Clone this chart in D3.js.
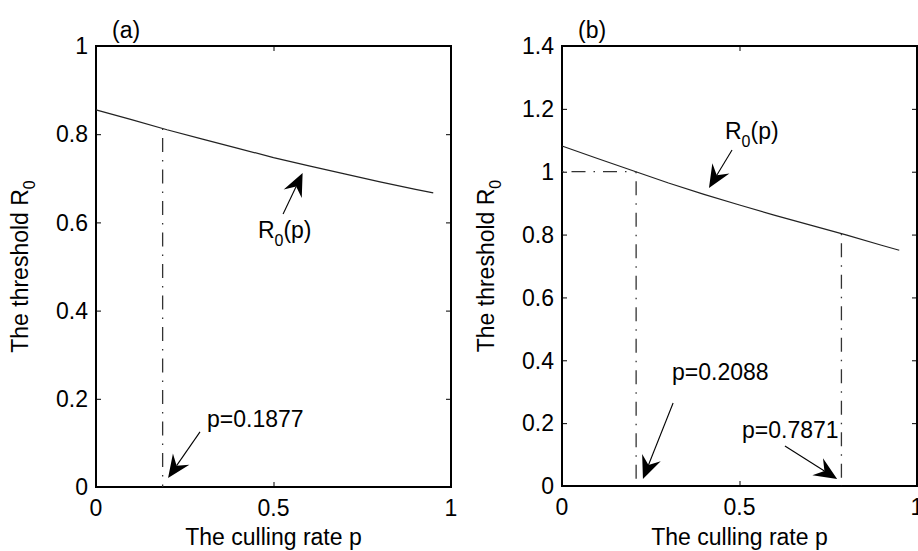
<!doctype html>
<html>
<head>
<meta charset="utf-8">
<script src="https://cdnjs.cloudflare.com/ajax/libs/d3/7.8.5/d3.min.js"></script>
<style>
  body { margin: 0; background: #fff; }
  svg { display: block; }
  text { font-family: "Liberation Sans", Arial, sans-serif; font-size: 23px; fill: #000; }
</style>
</head>
<body>
<svg width="918" height="551"></svg>
<script>
// culling rate p and threshold R0(p)
var pA = [0, 0.1, 0.2, 0.3, 0.4, 0.5, 0.6, 0.7, 0.8, 0.9, 0.95];
var r0A = [0.855, 0.833, 0.810, 0.789, 0.768, 0.747, 0.728, 0.710, 0.692, 0.675, 0.667];
var pB = [0, 0.1, 0.2, 0.3, 0.4, 0.5, 0.6, 0.7, 0.8, 0.9, 0.95];
var r0B = [1.082, 1.042, 1.003, 0.964, 0.928, 0.894, 0.861, 0.830, 0.799, 0.766, 0.750];

var xTicks = [0, 0.5, 1];
var yTicksA = [0, 0.2, 0.4, 0.6, 0.8, 1];
var yTicksB = [0, 0.2, 0.4, 0.6, 0.8, 1, 1.2, 1.4];

var critA = 0.1877;
var critB = [0.2088, 0.7871];

var svg = d3.select("svg");
var tickLen = 5;

function drawPanel(opt) {
    var x = d3.scaleLinear().domain([0, 1]).range([opt.left, opt.left + 355]);
    var y = d3.scaleLinear().domain([0, opt.ymax]).range([opt.bottom, 46]);
    var g = svg.append("g");

    // ticks (inside, all four sides)
    var ax = [
        d3.axisBottom(x).tickValues(xTicks).tickSize(-tickLen).tickFormat(""),
        d3.axisTop(x).tickValues(xTicks).tickSize(-tickLen).tickFormat(""),
        d3.axisLeft(y).tickValues(opt.yTicks).tickSize(-tickLen).tickFormat(""),
        d3.axisRight(y).tickValues(opt.yTicks).tickSize(-tickLen).tickFormat("")
    ];
    var tr = ["translate(0," + y(0) + ")", "translate(0," + y(opt.ymax) + ")",
              "translate(" + x(0) + ",0)", "translate(" + x(1) + ",0)"];
    ax.forEach(function(a, i) {
        var s = g.append("g").attr("transform", tr[i]).call(a);
        s.select(".domain").remove();
        s.selectAll("line").attr("stroke", "#000").attr("stroke-width", 1);
    });

    // tick labels
    g.selectAll(".xl").data(xTicks).enter().append("text")
        .attr("x", function(d) { return x(d); })
        .attr("y", y(0) + 29)
        .attr("text-anchor", "middle")
        .text(function(d) { return d3.format("")(d); });
    g.selectAll(".yl").data(opt.yTicks).enter().append("text")
        .attr("x", x(0) - 8)
        .attr("y", function(d) { return y(d); })
        .attr("dy", "0.36em")
        .attr("text-anchor", "end")
        .text(function(d) { return +d.toFixed(1); });

    // box
    g.append("rect")
        .attr("x", x(0)).attr("y", y(opt.ymax))
        .attr("width", x(1) - x(0)).attr("height", y(0) - y(opt.ymax))
        .attr("fill", "none").attr("stroke", "#000").attr("stroke-width", 2);

    // curve
    var pts = opt.p.map(function(d, i) { return [d, opt.r[i]]; });
    g.append("path")
        .attr("d", d3.line().x(function(d) { return x(d[0]); }).y(function(d) { return y(d[1]); })(pts))
        .attr("fill", "none").attr("stroke", "#222").attr("stroke-width", 1.2);

    var interp = function(v) {
        for (var i = 1; i < opt.p.length; i++) {
            if (v <= opt.p[i]) {
                var t = (v - opt.p[i - 1]) / (opt.p[i] - opt.p[i - 1]);
                return opt.r[i - 1] + t * (opt.r[i] - opt.r[i - 1]);
            }
        }
        return opt.r[opt.r.length - 1];
    };

    // dash-dot guide lines
    opt.crit.forEach(function(c) {
        g.append("line")
            .attr("x1", x(c)).attr("x2", x(c))
            .attr("y1", y(interp(c))).attr("y2", y(0))
            .attr("stroke", "#333").attr("stroke-width", 1.3)
            .attr("stroke-dasharray", "1.5,8,14,8");
    });
    if (opt.hline != null) {
        g.append("line")
            .attr("x1", x(0)).attr("x2", x(opt.crit[0]))
            .attr("y1", y(opt.hline)).attr("y2", y(opt.hline))
            .attr("stroke", "#333").attr("stroke-width", 1.3)
            .attr("stroke-dasharray", "1.5,8,14,8");
    }

    // panel label
    g.append("text").attr("x", x(0) + 16).attr("y", 38).text(opt.label);

    // axis titles
    g.append("text")
        .attr("x", x(0.5)).attr("y", 545)
        .attr("text-anchor", "middle")
        .text("The culling rate p");
    var yt = g.append("text")
        .attr("transform", "translate(" + (x(0) - 68) + "," + ((y(0) + y(opt.ymax)) / 2) + ") rotate(-90)")
        .attr("text-anchor", "middle");
    yt.append("tspan").text("The threshold R");
    yt.append("tspan").attr("dy", 7).style("font-size", "16px").text("0");

    // annotations
    opt.notes.forEach(function(n) {
        var t = g.append("text").attr("x", x(n.tx)).attr("y", y(n.ty));
        if (n.sub) {
            t.append("tspan").text("R");
            t.append("tspan").attr("dy", 8).style("font-size", "16px").text("0");
            t.append("tspan").attr("dy", -8).text("(p)");
        } else {
            t.text(n.text);
        }
        arrow(g, x(n.ax0), y(n.ay0), x(n.ax1), y(n.ay1));
    });
}

function arrow(g, x0, y0, x1, y1) {
    var dx = x1 - x0, dy = y1 - y0, len = Math.sqrt(dx * dx + dy * dy);
    var ux = dx / len, uy = dy / len, nx = -uy, ny = ux;
    var L = 23, W = 10, N = 15;
    g.append("line")
        .attr("x1", x0).attr("y1", y0)
        .attr("x2", x1 - ux * N).attr("y2", y1 - uy * N)
        .attr("stroke", "#000").attr("stroke-width", 1.1);
    var head = [
        [x1, y1],
        [x1 - ux * L + nx * W, y1 - uy * L + ny * W],
        [x1 - ux * N, y1 - uy * N],
        [x1 - ux * L - nx * W, y1 - uy * L - ny * W]
    ];
    g.append("path").attr("d", "M" + head.join("L") + "Z").attr("fill", "#000");
}

drawPanel({
    left: 96, bottom: 487, ymax: 1, yTicks: yTicksA, p: pA, r: r0A,
    crit: [critA], hline: null, label: "(a)",
    notes: [
        { sub: true, tx: 0.456, ty: 0.565, ax0: 0.527, ay0: 0.619, ax1: 0.582, ay1: 0.712 },
        { text: "p=0.1877", tx: 0.3127, ty: 0.136, ax0: 0.293, ay0: 0.125, ax1: 0.203, ay1: 0.0204 }
    ]
});

drawPanel({
    left: 562, bottom: 486, ymax: 1.4, yTicks: yTicksB, p: pB, r: r0B,
    crit: critB, hline: 1, label: "(b)",
    notes: [
        { sub: true, tx: 0.459, ty: 1.104, ax0: 0.479, ay0: 1.069, ax1: 0.414, ay1: 0.948 },
        { text: "p=0.2088", tx: 0.31, ty: 0.337, ax0: 0.313, ay0: 0.264, ax1: 0.228, ay1: 0.0223 },
        { text: "p=0.7871", tx: 0.507, ty: 0.153, ax0: 0.628, ay0: 0.127, ax1: 0.775, ay1: 0.0223 }
    ]
});
</script>
</body>
</html>
